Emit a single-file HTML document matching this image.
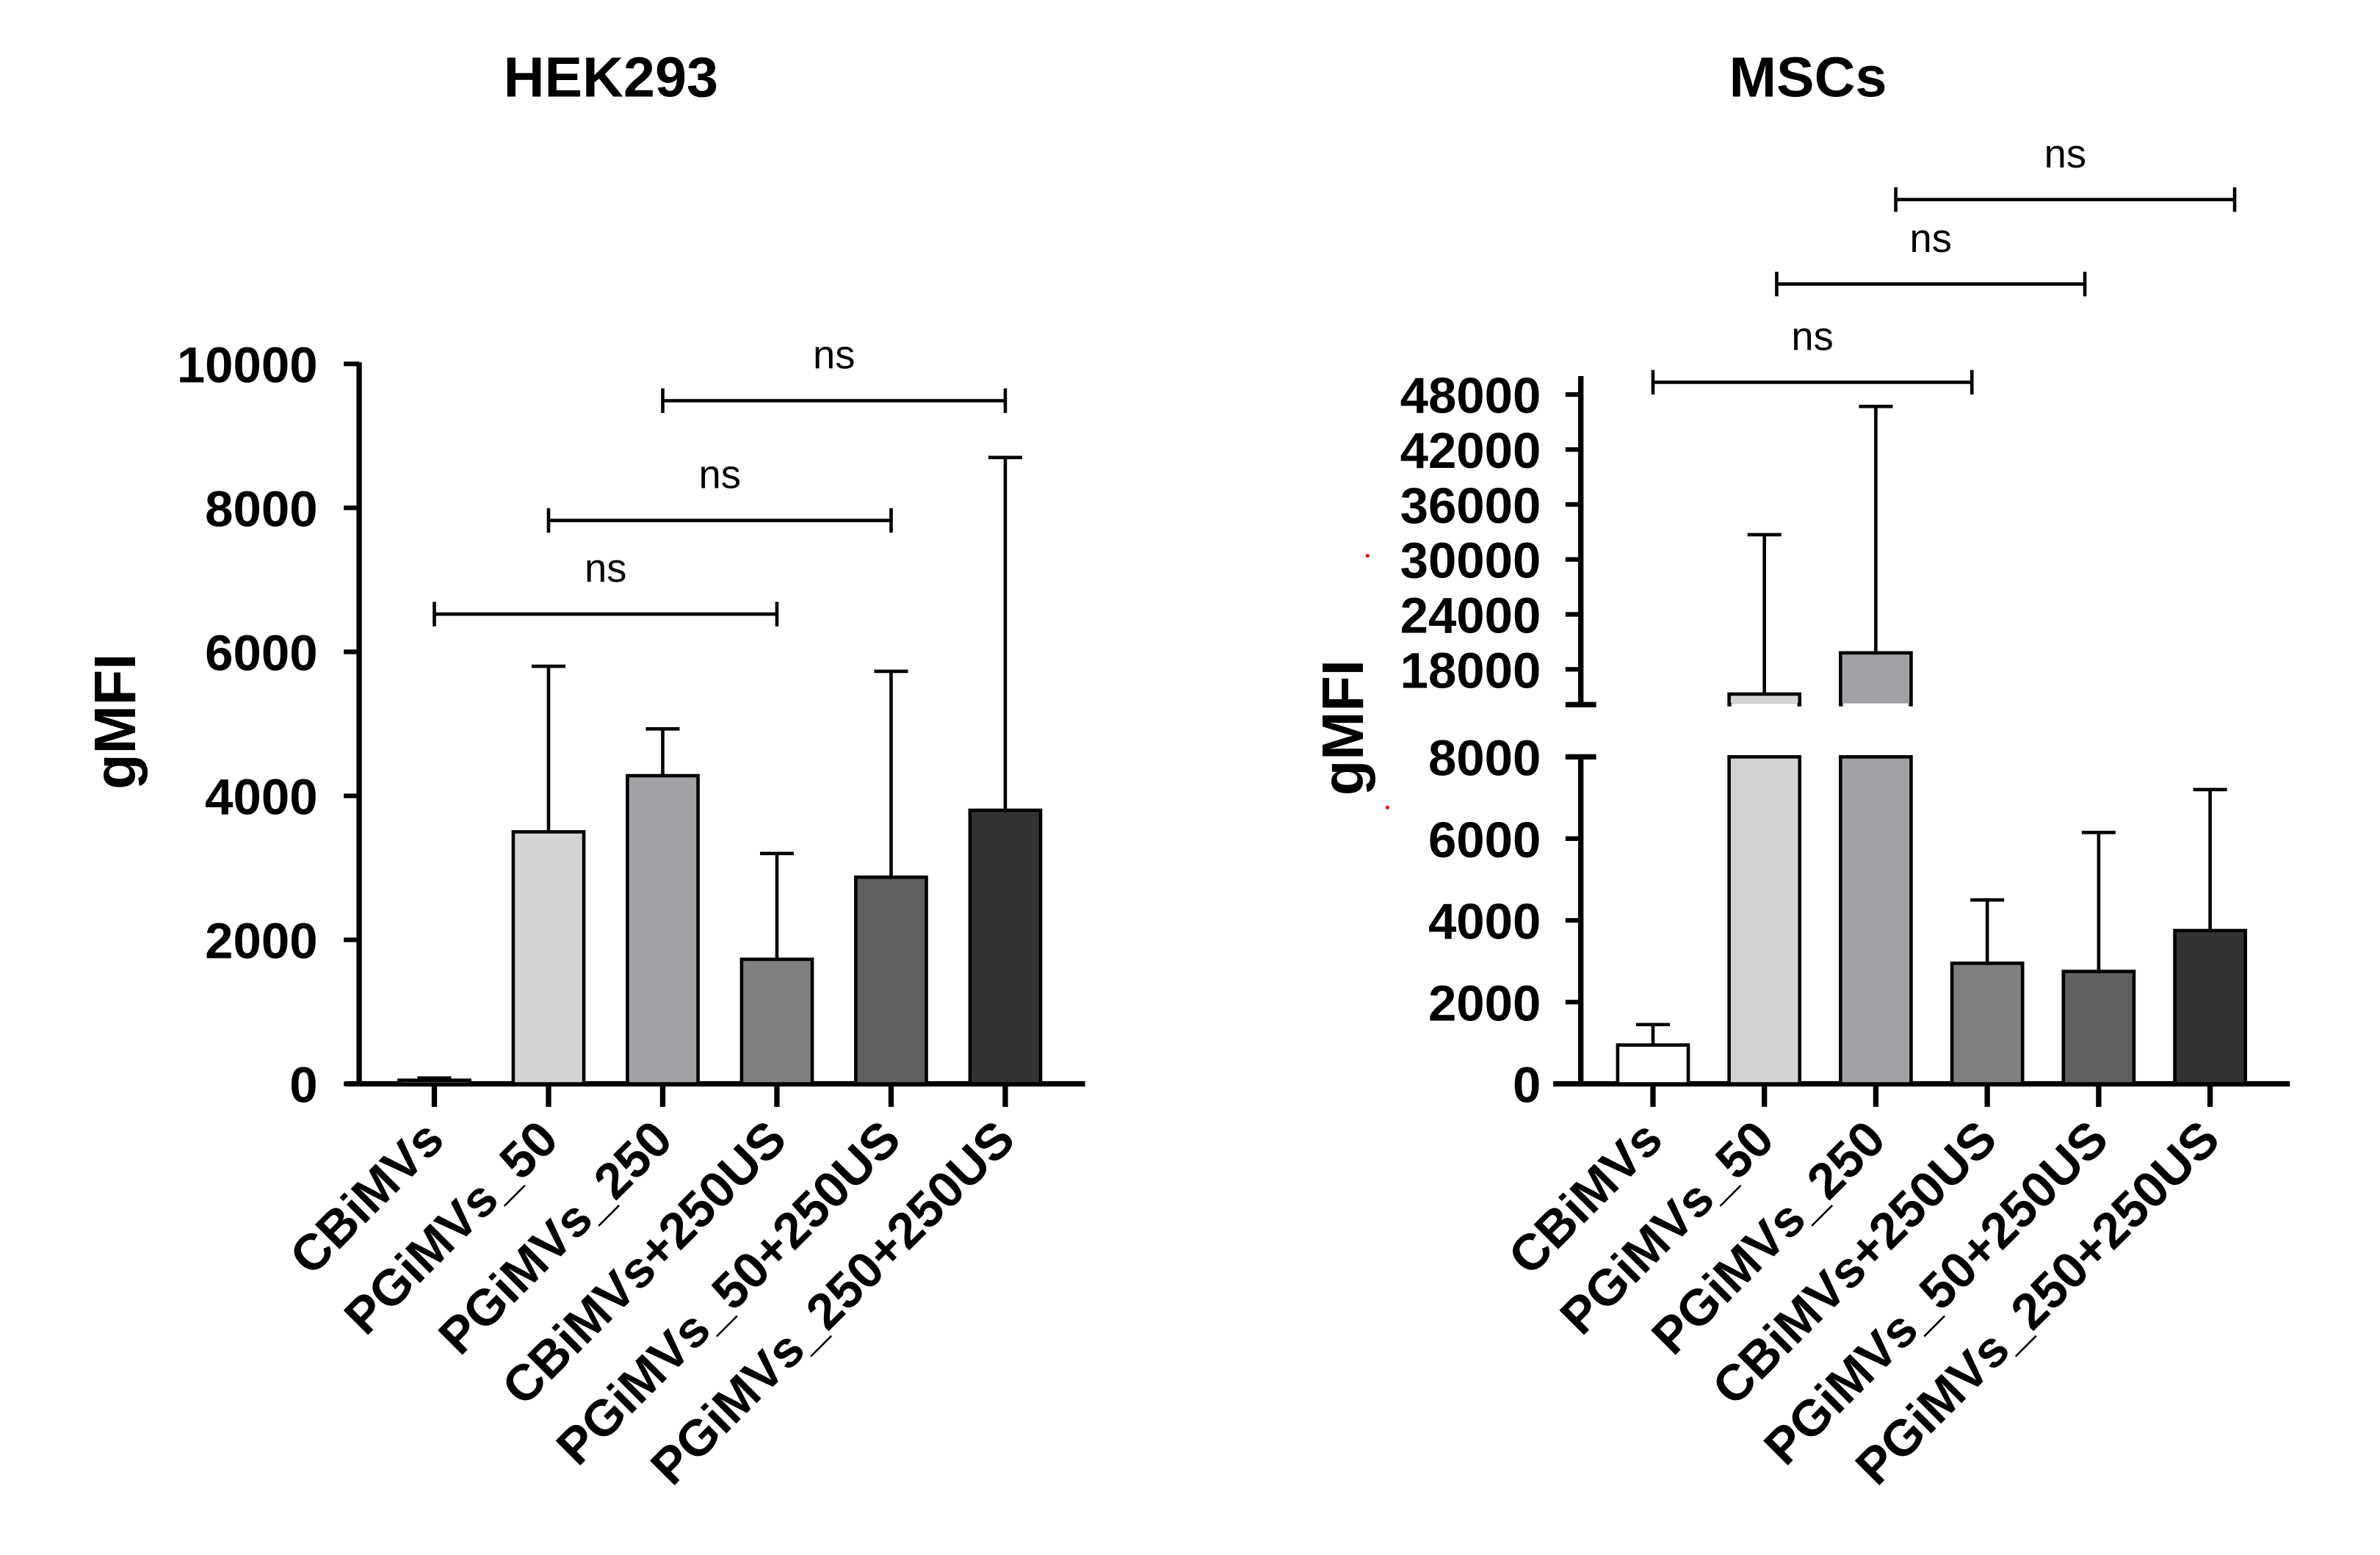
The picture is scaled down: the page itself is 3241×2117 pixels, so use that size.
<!DOCTYPE html>
<html><head><meta charset="utf-8"><style>
html,body{margin:0;padding:0;background:#fff;}
svg{display:block;}
text{font-family:"Liberation Sans",sans-serif;}
</style></head><body>
<svg id="c" width="3241" height="2117" viewBox="0 0 1550.7 1012.9" preserveAspectRatio="none" xmlns="http://www.w3.org/2000/svg"></svg>
<script>
const categories = ["CBiMVs","PGiMVs_50","PGiMVs_250","CBiMVs+250US","PGiMVs_50+250US","PGiMVs_250+250US"];
const colors = ["#ffffff","#d4d4d4","#a2a2a6","#808080","#606060","#333333"];
const hekValues = [50, 3500, 4280, 1730, 2870, 3800];
const hekErrors = [80, 5800, 4930, 3200, 5730, 8700];
const hekTicks = [0, 2000, 4000, 6000, 8000, 10000];
const mscValues = [950, 15300, 19800, 2950, 2750, 3750];
const mscErrors = [1450, 32700, 46700, 4500, 6150, 7200];
const mscLowTicks = [0, 2000, 4000, 6000, 8000];
const mscHighTicks = [18000, 24000, 30000, 36000, 42000, 48000];
const hekBrackets = [[0,3,400],[1,4,339],[2,5,261]];
const mscBrackets = [[0,3,249],[1,4,185],[2,5,130]];

const svg = document.getElementById('c');
const NS = "http://www.w3.org/2000/svg";
function el(tag, attrs, parent){
  const e = document.createElementNS(NS, tag);
  for (const k in attrs) e.setAttribute(k, attrs[k]);
  (parent||svg).appendChild(e); return e;
}
function line(x1,y1,x2,y2,w,name){
  const l = el('line',{x1,y1,x2,y2,stroke:'#000','stroke-width':w});
  
  
  return l;
}
function txt(x,y,s,size,anchor,weight,name,tr){
  const t = el('text',{x,y,'font-size':size,'text-anchor':anchor,'font-weight':weight});
  if(tr) t.setAttribute('transform',tr);
  t.textContent = s;
  
  
  return t;
}

// ---------- HEK293 ----------
const hx0 = 283, hdx = 74.4, hy0 = 706, hy1 = 237;
const hX = i => hx0 + i*hdx;
const hY = v => hy0 - (v/10000)*(hy0-hy1);
txt(398, 63, "HEK293", 37, 'middle', 'bold', 'hek-title');
txt(88, 470, "gMFI", 38, 'middle', 'bold', 'hek-y-axis-title', 'rotate(-90 88 470)');
line(234, hy1-1, 234, hy0+1.5, 3.5, 'hek-y-axis');
line(225, hy0, 707, hy0, 3.5, 'hek-x-axis');
hekTicks.forEach(v=>{
  line(224, hY(v), 234, hY(v), 3, 'hek-y-tick');
  txt(207, hY(v)+12, String(v), 33, 'end', 'bold', 'hek-y-tick-label');
});
categories.forEach((c,i)=>{
  const x = hX(i), w = 46;
  const ey = hY(hekErrors[i]), by = hY(hekValues[i]);
  line(x, ey, x, by, 2.2, 'hek-error-bar');
  line(x-11, ey, x+11, ey, 2.2, 'hek-error-cap');
  const r = el('rect',{x:x-w/2,y:by,width:w,height:hy0-by,fill:colors[i],stroke:'#000','stroke-width':2.2});
  
  
  line(x, hy0, x, hy0+15, 3.5, 'hek-x-tick');
  txt(x+8, 744, c, 33, 'end', 'bold', 'hek-x-label', `rotate(-45 ${x+8} 744)`);
});
hekBrackets.forEach(([a,b,y])=>{
  const x1 = hX(a), x2 = hX(b);
  line(x1, y, x2, y, 2.2, 'hek-sig-bracket');
  line(x1, y-8, x1, y+8, 2.2, 'hek-sig-bracket-end');
  line(x2, y-8, x2, y+8, 2.2, 'hek-sig-bracket-end');
  txt((x1+x2)/2, y-21, "ns", 26, 'middle', 'normal', 'hek-sig-label');
});

// ---------- MSCs ----------
const mx0 = 1077, mdx = 72.6, my0 = 706, myLowTop = 493;
const mX = i => mx0 + i*mdx;
const hiPer = (436-257)/30000;
function mY(v){
  if (v <= 8000) return my0 - v/8000*(my0-myLowTop);
  return 436 - (v-18000)*hiPer;
}
txt(1178, 63, "MSCs", 37, 'middle', 'bold', 'msc-title');
txt(888, 474, "gMFI", 38, 'middle', 'bold', 'msc-y-axis-title', 'rotate(-90 888 474)');
line(1030, myLowTop-1, 1030, my0+1.5, 3.5, 'msc-y-axis-lower');
line(1030, 245, 1030, 459, 3.5, 'msc-y-axis-upper');
line(1020, 459, 1040, 459, 3.5, 'msc-axis-break-upper');
line(1020, 493, 1040, 493, 3.5, 'msc-axis-break-lower');
line(1012, my0, 1492, my0, 3.5, 'msc-x-axis');
mscLowTicks.forEach(v=>{
  line(1020, mY(v), 1030, mY(v), 3, 'msc-y-tick');
  txt(1004, mY(v)+12, String(v), 33, 'end', 'bold', 'msc-y-tick-label');
});
mscHighTicks.forEach(v=>{
  line(1020, mY(v), 1030, mY(v), 3, 'msc-y-tick');
  txt(1004, mY(v)+12, String(v), 33, 'end', 'bold', 'msc-y-tick-label');
});
categories.forEach((c,i)=>{
  const x = mX(i), w = 46, v = mscValues[i];
  const ey = mY(mscErrors[i]);
  const by = mY(v);
  line(x, ey, x, v <= 8000 ? by : Math.min(by, 458), 2.2, 'msc-error-bar');
  if (v <= 8000){
    const r = el('rect',{x:x-w/2,y:by,width:w,height:my0-by,fill:colors[i],stroke:'#000','stroke-width':2.2});
    
    
  } else {
    const r1 = el('rect',{x:x-w/2,y:myLowTop,width:w,height:my0-myLowTop,fill:colors[i],stroke:'#000','stroke-width':2.2});
    
    
    const top = Math.min(by, 458);
    const r2 = el('rect',{x:x-w/2,y:top,width:w,height:Math.max(459-top,1),fill:colors[i],stroke:'#000','stroke-width':2.2});
    
    
    const m = el('rect',{x:x-w/2+1.5,y:458,width:w-3,height:4,fill:'#fff'});
    
    
  }
  line(x-11, ey, x+11, ey, 2.2, 'msc-error-cap');
  line(x, my0, x, my0+15, 3.5, 'msc-x-tick');
  txt(x+8, 744, c, 33, 'end', 'bold', 'msc-x-label', `rotate(-45 ${x+8} 744)`);
});
mscBrackets.forEach(([a,b,y],k)=>{
  const x1 = mX(a) + [0,8,13][k], x2 = mX(b) + [-10,-9,16][k];
  line(x1, y, x2, y, 2.2, 'msc-sig-bracket');
  line(x1, y-8, x1, y+8, 2.2, 'msc-sig-bracket-end');
  line(x2, y-8, x2, y+8, 2.2, 'msc-sig-bracket-end');
  txt((x1+x2)/2, y-21, "ns", 26, 'middle', 'normal', 'msc-sig-label');
});
[[891,362],[904,526]].forEach(([x,y])=>{
  const d = el('circle',{cx:x,cy:y,r:1.2,fill:'#e00'});
  
  
});
</script>
</body></html>
